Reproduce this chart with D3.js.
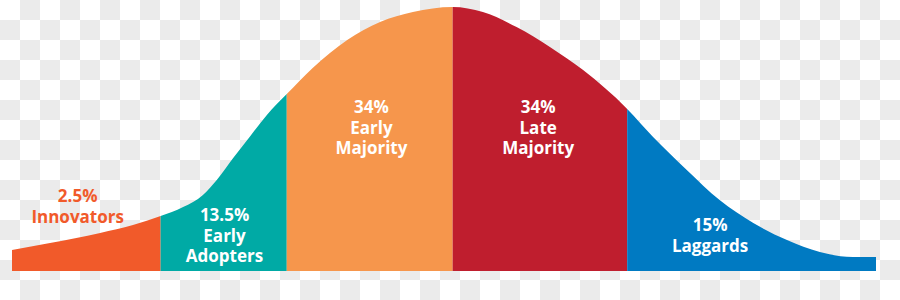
<!DOCTYPE html>
<html>
<head>
<meta charset="utf-8">
<script src="https://cdn.jsdelivr.net/npm/d3@7"></script>
<style>
  body { margin: 0; }
  svg { display: block; }
</style>
</head>
<body>
<div id="chart"></div>
<script>
// curve: position along the curve (0-100) and height (% of peak)
var curveX = [0, 4.4, 10.2, 14.0, 17.2, 19.8, 22.1, 23.7, 25.6, 27.5, 29.5, 31.8, 34.8, 38.8, 42.6, 46.4, 51.0, 54.5, 58.4, 62.3, 66.1, 71.2, 74.2, 78.1, 81.9, 85.8, 89.7, 93.5, 97.3, 100];
var curveY = [8.0, 10.6, 14.4, 17.4, 20.8, 24.2, 28.8, 34.5, 42.8, 50.8, 59.1, 67.0, 76.9, 87.5, 94.3, 98.1, 100, 98.1, 92.4, 84.8, 76.1, 61.4, 50.8, 38.3, 26.9, 18.2, 11.7, 7.2, 5.3, 5.3];

// segments
var segStart = [0, 17.2, 31.8, 51.0, 71.2];
var segEnd = [17.2, 31.8, 51.0, 71.2, 100];
var segColor = ["#f15a2a", "#00aaa5", "#f6964c", "#bf1e2e", "#007ac2"];
var segPct = ["2.5%", "13.5%", "34%", "34%", "15%"];
var segName = [["Innovators"], ["Early", "Adopters"], ["Early", "Majority"], ["Late", "Majority"], ["Laggards"]];

var width = 900, height = 300;

var svg = d3.select("#chart")
  .append("svg")
  .attr("width", width)
  .attr("height", height);

// checkerboard background (transparent png look)
var defs = svg.append("defs");
var pat = defs.append("pattern")
  .attr("id", "checker")
  .attr("width", 40)
  .attr("height", 40)
  .attr("patternUnits", "userSpaceOnUse");
pat.append("rect").attr("width", 40).attr("height", 40).attr("fill", "#ffffff");
pat.append("rect").attr("x", 20).attr("y", 0).attr("width", 20).attr("height", 20).attr("fill", "#ebebeb");
pat.append("rect").attr("x", 0).attr("y", 20).attr("width", 20).attr("height", 20).attr("fill", "#ebebeb");
svg.append("rect").attr("width", width).attr("height", height).attr("fill", "url(#checker)");

var x = d3.scaleLinear().domain([0, 100]).range([12, 876]);
var y = d3.scaleLinear().domain([0, 100]).range([271, 7]);

var points = curveX.map(function(d, i) { return [d, curveY[i]]; });

var area = d3.area()
  .x(function(d) { return x(d[0]); })
  .y0(y(0))
  .y1(function(d) { return y(d[1]); })
  .curve(d3.curveMonotoneX);

segStart.forEach(function(s, i) {
  defs.append("clipPath")
    .attr("id", "seg" + i)
    .append("rect")
    .attr("x", x(s))
    .attr("y", 0)
    .attr("width", x(segEnd[i]) - x(s))
    .attr("height", height);

  svg.append("path")
    .datum(points)
    .attr("d", area)
    .attr("fill", segColor[i])
    .attr("clip-path", "url(#seg" + i + ")");
});

// labels: [center x, first baseline]
var labelPos = [[7.6, 202], [24.6, 221], [41.6, 113], [60.9, 113], [80.8, 231]];

labelPos.forEach(function(p, i) {
  var lines = [segPct[i]].concat(segName[i]);
  var t = svg.append("text")
    .attr("x", x(p[0]))
    .attr("y", p[1])
    .attr("text-anchor", "middle")
    .style("font-family", "'Open Sans', sans-serif")
    .style("font-weight", 700)
    .style("font-size", "17px")
    .attr("fill", i === 0 ? segColor[0] : "#ffffff");
  lines.forEach(function(l, j) {
    t.append("tspan")
      .attr("x", x(p[0]))
      .attr("dy", j === 0 ? 0 : 20.5)
      .text(l);
  });
});
</script>
</body>
</html>
